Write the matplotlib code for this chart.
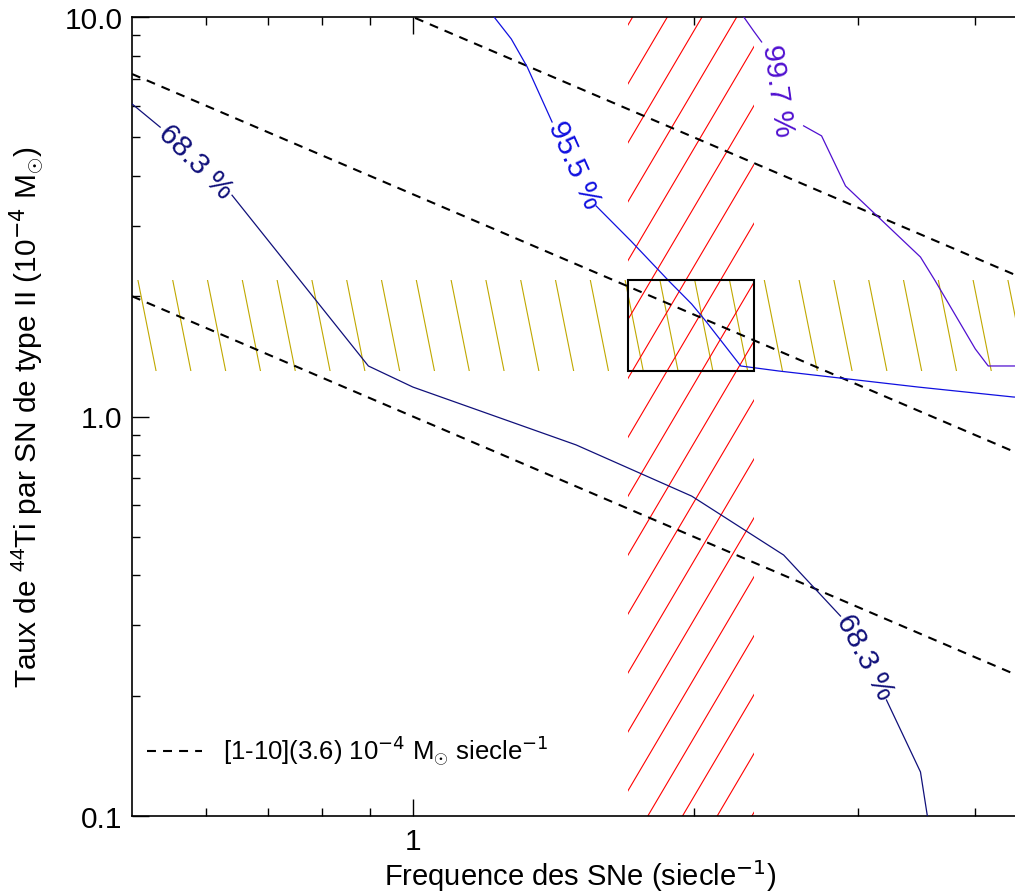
import numpy as np
import matplotlib
matplotlib.use("Agg")
import matplotlib.pyplot as plt
from matplotlib.patches import Rectangle
from matplotlib.collections import LineCollection
from matplotlib.ticker import FixedLocator, FixedFormatter, NullFormatter

plt.rcParams['font.family'] = ['Liberation Sans', 'DejaVu Sans']
plt.rcParams['mathtext.fontset'] = 'custom'
plt.rcParams['mathtext.rm'] = 'Liberation Sans'
plt.rcParams['mathtext.it'] = 'Liberation Sans:italic'
FS = 21.5

## mass of 44Ti per century, 10^-4 Msun (dashed lines y = M / x)
masses = [1.0, 3.6, 10.0]
x_line = np.array([0.5, 5.0])

## observed bands
freq_band = (1.70, 2.32)   # SN frequency (siecle^-1)
yield_band = (1.30, 2.20)  # 44Ti yield (10^-4 Msun)

## confidence contours, split where the labels sit
c683_a_x = [0.50, 0.536]
c683_a_y = [6.06, 5.30]
c683_b_x = [0.640, 0.896, 1.00, 1.496, 1.99, 2.497, 2.873]
c683_b_y = [3.58, 1.338, 1.185, 0.849, 0.632, 0.450, 0.3166]
c683_c_x = [3.218, 3.50, 3.56]
c683_c_y = [0.1952, 0.1289, 0.10]

c955_a_x = [1.222, 1.275, 1.326, 1.410]
c955_a_y = [10.0, 8.81, 7.50, 5.46]
c955_b_x = [1.572, 1.713, 1.881, 1.99, 2.06, 2.246, 2.466, 3.48, 4.40, 5.0]
c955_b_y = [3.365, 2.75, 2.184, 1.912, 1.734, 1.338, 1.30, 1.185, 1.119, 1.10]

c997_a_x = [2.263, 2.319, 2.365]
c997_a_y = [10.0, 9.22, 8.66]
c997_b_x = [2.623, 2.742, 2.909, 3.50, 3.63, 4.007, 4.137, 4.40, 5.0]
c997_b_y = [5.34, 5.04, 3.776, 2.507, 2.184, 1.476, 1.338, 1.338, 1.338]

## contour labels: text, x, y, rotation
lab_text = ["68.3 %", "68.3 %", "95.5 %", "99.7 %"]
lab_x = [0.585, 3.05, 1.489, 2.46]
lab_y = [4.36, 0.2515, 4.29, 6.57]
lab_rot = [-45, -62, -66, -82]

col683 = '#10107a'
col955 = '#1010e0'
col997 = '#5010d0'
lab_col = [col683, col683, col955, col997]


def hatch(ax, clip, angle, spacing, phase, color):
    # parallel lines in axes pixels, clipped to a patch
    W, H = ax.bbox.width, ax.bbox.height
    d = np.array([np.cos(np.radians(angle)), np.sin(np.radians(angle))])
    L = 3 * np.hypot(W, H)
    segs = []
    for k in range(-80, 80):
        x0 = phase + k * spacing
        segs.append([((x0 - L*d[0]) / W, (-L*d[1]) / H),
                     ((x0 + L*d[0]) / W, (L*d[1]) / H)])
    lc = LineCollection(segs, colors=color, linewidths=0.8, transform=ax.transAxes)
    ax.add_collection(lc, autolim=False)
    lc.set_clip_path(clip)


fig = plt.figure(figsize=(10.15, 8.95), dpi=100)
ax = fig.add_axes([132/1015, 78/895, 933/1015, 799/895])
ax.set_xscale('log')
ax.set_yscale('log')
ax.set_xlim(0.5, 5.0)
ax.set_ylim(0.1, 10.0)

## hatched bands
ybox = Rectangle((0.5, yield_band[0]), 4.5, yield_band[1] - yield_band[0],
                 fill=False, lw=0)
ax.add_patch(ybox)
hatch(ax, ybox, -78.7, 34.8, 113.0, '#c0a800')

xbox = Rectangle((freq_band[0], 0.1), freq_band[1] - freq_band[0], 9.9,
                 fill=False, lw=0)
ax.add_patch(xbox)
hatch(ax, xbox, 59.5, 34.7, 64.7, '#ff0000')

ax.add_patch(Rectangle((freq_band[0], yield_band[0]), freq_band[1] - freq_band[0],
                       yield_band[1] - yield_band[0], fill=False, ec='black', lw=1.5, zorder=4))

## dashed lines
for i, m in enumerate(masses):
    ax.plot(x_line, m / x_line, color='black', lw=1.5, dashes=(4.3, 3.4),
            label=r"[1-10](3.6) 10$^{\mathsf{-4}}$ M$_{\odot}$ siecle$^{\mathsf{-1}}$" if i == 0 else None,
            zorder=3)

## contours
for xs, ys in [(c683_a_x, c683_a_y), (c683_b_x, c683_b_y), (c683_c_x, c683_c_y)]:
    ax.plot(xs, ys, color=col683, lw=0.9, zorder=3)
for xs, ys in [(c955_a_x, c955_a_y), (c955_b_x, c955_b_y)]:
    ax.plot(xs, ys, color=col955, lw=0.9, zorder=3)
for xs, ys in [(c997_a_x, c997_a_y), (c997_b_x, c997_b_y)]:
    ax.plot(xs, ys, color=col997, lw=0.9, zorder=3)

for t, x, y, r, c in zip(lab_text, lab_x, lab_y, lab_rot, lab_col):
    ax.text(x, y, t, rotation=r, color=c, fontsize=FS, ha='center', va='center',
            rotation_mode='anchor', zorder=5)

## axes cosmetics
ax.yaxis.set_major_locator(FixedLocator([0.1, 1.0, 10.0]))
ax.yaxis.set_major_formatter(FixedFormatter(["0.1", "1.0", "10.0"]))
ax.yaxis.set_minor_locator(FixedLocator([a * b for b in (0.1, 1.0) for a in range(2, 10)]))
ax.yaxis.set_minor_formatter(NullFormatter())
ax.xaxis.set_major_locator(FixedLocator([1.0]))
ax.xaxis.set_major_formatter(FixedFormatter(["1"]))
ax.xaxis.set_minor_locator(FixedLocator([0.6, 0.7, 0.8, 0.9, 2, 3, 4]))
ax.xaxis.set_minor_formatter(NullFormatter())

ax.tick_params(which='both', direction='in', top=True, right=True, labelsize=FS)
ax.tick_params(which='major', length=12, width=1)
ax.tick_params(which='minor', length=6, width=1)
ax.tick_params(axis='x', pad=8)
ax.tick_params(axis='y', pad=7)
for s in ax.spines.values():
    s.set_linewidth(1.2)

ax.set_xlabel(r"Frequence des SNe (siecle$^{\mathsf{-1}}$)", fontsize=21)
ax.set_ylabel(r"Taux de $^{44}$Ti par SN de type II (10$^{\mathsf{-4}}$ M$_{\odot}$)", fontsize=FS)
ax.xaxis.set_label_coords(0.48, -0.051)
ax.yaxis.set_label_coords(-0.092, 0.5)

ax.legend(loc='center left', bbox_to_anchor=(15/933, 65/799), frameon=False,
          fontsize=18.5, handlelength=2.15, handletextpad=0.8,
          borderpad=0, borderaxespad=0)

fig.savefig("out.png", dpi=100)
